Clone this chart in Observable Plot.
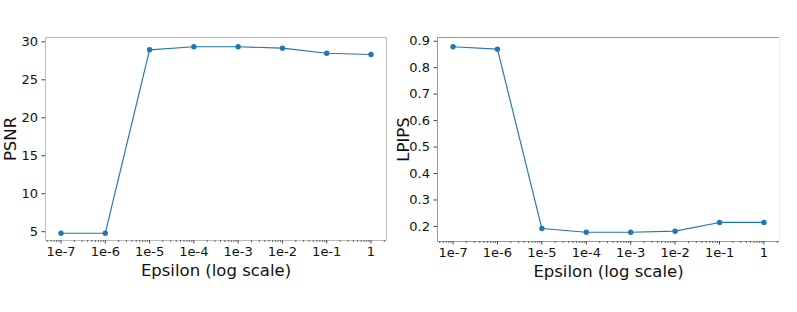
<!DOCTYPE html>
<html>
<head>
<meta charset="utf-8">
<script src="https://cdn.jsdelivr.net/npm/d3@7"></script>
<script src="https://cdn.jsdelivr.net/npm/@observablehq/plot@0.6"></script>
<style>
  html, body { margin: 0; padding: 0; background: #fff; }
  #wrap { display: flex; width: 797px; height: 312px; }
  svg { font-family: "DejaVu Sans", sans-serif; }
  g[aria-label="x-axis label"] text, g[aria-label="y-axis label"] text { font-size: 16.5px; }
</style>
</head>
<body>
<div id="wrap"></div>
<script>
// Data
const eps = [1e-7, 1e-6, 1e-5, 1e-4, 1e-3, 1e-2, 1e-1, 1];
const epsLabels = ["1e-7", "1e-6", "1e-5", "1e-4", "1e-3", "1e-2", "1e-1", "1"];
const psnr = [4.8, 4.8, 28.95, 29.35, 29.35, 29.17, 28.5, 28.33];
const lpips = [0.879, 0.870, 0.192, 0.178, 0.178, 0.182, 0.215, 0.215];
const psnrTicks = [5, 10, 15, 20, 25, 30];
const lpipsTicks = [0.2, 0.3, 0.4, 0.5, 0.6, 0.7, 0.8, 0.9];

const xDomain = [Math.pow(10, -7.35), Math.pow(10, 0.35)];
const minorTicks = [];
for (let k = -8; k <= 0; k++) for (let m = 2; m <= 9; m++) {
  const v = m * Math.pow(10, k);
  if (v >= xDomain[0] && v <= xDomain[1]) minorTicks.push(v);
}
const psnrData = eps.map((e, i) => ({eps: e, v: psnr[i]}));
const lpipsData = eps.map((e, i) => ({eps: e, v: lpips[i]}));
const blue = "#1f77b4";
const fmtX = d => epsLabels[eps.indexOf(d)] ?? "";

function chart({data, yDomain, yTicks, yFmt, yLabel, width, ml, mr, mb, lo, frameCol, sideCols}) {
  const marks = [
    Plot.frame({stroke: frameCol}),
  ];
  if (sideCols) {
    marks.push(Plot.ruleX([xDomain[0]], {stroke: sideCols.left}));
    marks.push(Plot.ruleY([yDomain[0]], {stroke: sideCols.bottom}));
    marks.push(Plot.ruleY([yDomain[1]], {stroke: sideCols.top}));
  }
  marks.push(
    Plot.axisX({ticks: minorTicks, tickSize: 2, tickFormat: null, stroke: "#666", label: null}),
    Plot.axisX({ticks: eps, tickSize: 3.5, tickPadding: 3, tickFormat: fmtX, stroke: "#444", fill: "#111",
      fontSize: 13, label: "Epsilon (log scale)", labelAnchor: "center", labelArrow: "none", labelOffset: 35}),
    Plot.axisY({ticks: yTicks, tickSize: 3.5, tickPadding: 4, tickFormat: yFmt, stroke: "#444", fill: "#111",
      fontSize: 13, label: yLabel, labelAnchor: "center", labelArrow: "none", labelOffset: lo}),
    Plot.line(data, {x: "eps", y: "v", stroke: blue, strokeWidth: 1.15}),
    Plot.dot(data, {x: "eps", y: "v", fill: blue, r: 2.7})
  );
  return Plot.plot({
    width, height: 312,
    marginLeft: ml, marginRight: mr, marginTop: 37, marginBottom: mb,
    style: {fontFamily: "DejaVu Sans", fontSize: "13px", color: "#111", background: "#fff"},
    x: {type: "log", domain: xDomain},
    y: {domain: yDomain},
    marks
  });
}

const wrap = document.getElementById("wrap");
wrap.append(chart({
  data: psnrData, yDomain: [3.84, 30.57], yTicks: psnrTicks, yFmt: d => String(d), yLabel: "PSNR",
  width: 390, ml: 45, mr: 4, mb: 72, lo: 41, frameCol: "#bbb"
}));
wrap.append(chart({
  data: lpipsData, yDomain: [0.143, 0.914], yTicks: lpipsTicks, yFmt: d => d.toFixed(1), yLabel: "LPIPS",
  width: 407, ml: 47, mr: 18, mb: 71, lo: 40, frameCol: "#eee",
  sideCols: {left: "#999", bottom: "#999", top: "#999"}
}));
</script>
</body>
</html>
